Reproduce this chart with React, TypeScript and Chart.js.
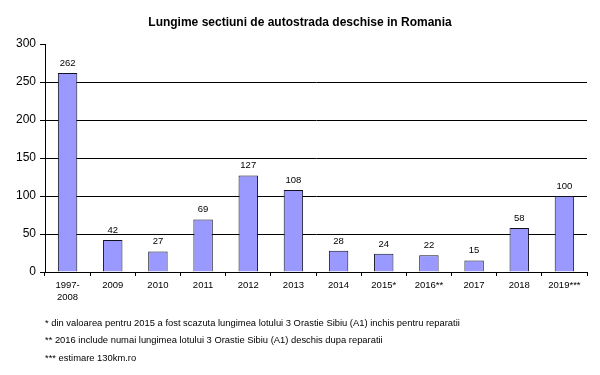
import React, { useEffect, useRef } from "react";
import { Chart, registerables } from "chart.js";

Chart.register(...registerables);

const TITLE = "Lungime sectiuni de autostrada deschise in Romania";
const categories: (string | string[])[] = [
  ["1997-", "2008"], "2009", "2010", "2011", "2012", "2013", "2014", "2015*", "2016**", "2017", "2018", "2019***",
];
const lengthsKm = [262, 42, 27, 69, 127, 108, 28, 24, 22, 15, 58, 100];
const footnotes = [
  "* din valoarea pentru 2015 a fost scazuta lungimea lotului 3 Orastie Sibiu (A1) inchis pentru reparatii",
  "** 2016 include numai lungimea lotului 3 Orastie Sibiu (A1) deschis dupa reparatii",
  "*** estimare 130km.ro",
];
const yMax = 300;
const yStep = 50;

const FONT = 'Arial, "Liberation Sans", sans-serif';

const textPlugin = {
  id: "textPlugin",
  afterDatasetsDraw(chart: any) {
    const ctx = chart.ctx;
    ctx.save();
    // title
    ctx.fillStyle = "#000";
    ctx.font = `bold 12px ${FONT}`;
    ctx.textAlign = "center";
    ctx.textBaseline = "middle";
    ctx.fillText(TITLE, 300, 23);
    // data labels
    const meta = chart.getDatasetMeta(0);
    ctx.font = `9.5px ${FONT}`;
    ctx.textBaseline = "bottom";
    meta.data.forEach((bar: any, i: number) => {
      ctx.fillText(String(lengthsKm[i]), bar.x, bar.y - 5);
    });
    // footnotes
    ctx.textAlign = "left";
    ctx.textBaseline = "middle";
    ctx.font = `9.4px ${FONT}`;
    const ys = [323, 340, 358];
    footnotes.forEach((t, i) => ctx.fillText(t, 45, ys[i]));
    ctx.restore();
  },
};

export default function App() {
  const ref = useRef<HTMLCanvasElement>(null);
  useEffect(() => {
    if (!ref.current) return;
    const chart = new Chart(ref.current, {
      type: "bar",
      data: {
        labels: categories,
        datasets: [
          {
            data: lengthsKm,
            backgroundColor: "#9999FF",
            borderColor: "#111122",
            borderWidth: 1,
            barPercentage: 0.43,
            categoryPercentage: 1,
          },
        ],
      },
      options: {
        animation: false,
        responsive: false,
        maintainAspectRatio: false,
        layout: { padding: { left: 0, right: 13, top: 44, bottom: 63 } },
        plugins: {
          legend: { display: false },
          title: { display: false },
          tooltip: { enabled: false },
        },
        scales: {
          x: {
            afterFit: (s: any) => {
              s.height = 40;
            },
            grid: {
              offset: true,
              drawOnChartArea: false,
              color: "#000",
              tickLength: 4,
            },
            border: { color: "#000", width: 1 },
            ticks: {
              color: "#000",
              font: { family: FONT, size: 9.5 },
              padding: 4,
              maxRotation: 0,
              autoSkip: false,
            },
          },
          y: {
            min: 0,
            max: yMax,
            afterFit: (s: any) => {
              s.width = 45;
            },
            grid: {
              color: (c: any) => (c.tick && c.tick.value === yMax ? "rgba(0,0,0,0)" : "#000"),
              tickColor: "#000",
              tickLength: 5,
              lineWidth: 1,
            },
            border: { color: "#000", width: 1 },
            ticks: {
              stepSize: yStep,
              color: "#000",
              font: { family: FONT, size: 12 },
              padding: 4,
            },
          },
        },
      },
      plugins: [textPlugin],
    });
    return () => chart.destroy();
  }, []);
  return (
    <div style={{ position: "fixed", left: 0, top: 0, width: 600, height: 375, background: "#fff" }}>
      <canvas ref={ref} width={600} height={375} style={{ width: 600, height: 375 }} />
    </div>
  );
}
